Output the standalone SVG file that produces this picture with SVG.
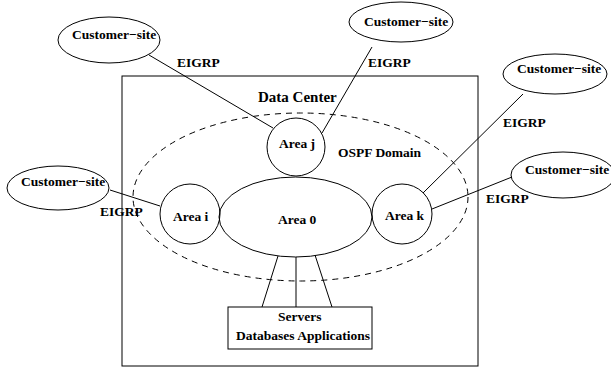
<svg xmlns="http://www.w3.org/2000/svg" width="611" height="367" viewBox="0 0 611 367">
<style>
.s{fill:none;stroke:#000;stroke-width:1}
.t{font-family:"Liberation Serif","Times New Roman",serif;font-weight:bold;font-size:13.5px;fill:#000}
.d{fill:none;stroke:#000;stroke-width:1;stroke-dasharray:6,5}
</style>
<rect width="611" height="367" fill="#fff"/>
<g id="datacenter">
<rect class="s" x="122" y="76" width="356" height="290"/>
<text class="t" x="258" y="102" style="font-size:15px">Data Center</text>
</g>
<g id="ospf">
<ellipse class="d" cx="300.5" cy="197" rx="167.5" ry="84"/>
<text class="t" x="338" y="157">OSPF Domain</text>
</g>
<g id="connectors">
<line class="s" x1="149" y1="55" x2="273" y2="128"/>
<line class="s" x1="372" y1="47" x2="322" y2="133"/>
<line class="s" x1="523" y1="94" x2="423" y2="193"/>
<line class="s" x1="512" y1="177" x2="432" y2="209"/>
<line class="s" x1="110" y1="190" x2="160" y2="206"/>
<line class="s" x1="278" y1="256" x2="262" y2="307"/>
<line class="s" x1="296" y1="257" x2="296" y2="307"/>
<line class="s" x1="315" y1="255" x2="332" y2="307"/>
<text class="t" x="177" y="67">EIGRP</text>
<text class="t" x="368" y="67">EIGRP</text>
<text class="t" x="503" y="127">EIGRP</text>
<text class="t" x="486" y="203">EIGRP</text>
<text class="t" x="100" y="216">EIGRP</text>
</g>
<g id="cs1">
<ellipse class="s" cx="109" cy="40" rx="51" ry="23"/>
<text class="t" x="72" y="39">Customer−site</text>
</g>
<g id="cs2">
<ellipse class="s" cx="401" cy="22" rx="52" ry="20"/>
<text class="t" x="364" y="26">Customer−site</text>
</g>
<g id="cs3">
<ellipse class="s" cx="555" cy="74" rx="52" ry="20"/>
<text class="t" x="517" y="73">Customer−site</text>
</g>
<g id="cs4">
<ellipse class="s" cx="563" cy="175" rx="52" ry="23"/>
<text class="t" x="525" y="174">Customer−site</text>
</g>
<g id="cs5">
<ellipse class="s" cx="58" cy="188" rx="51" ry="22"/>
<text class="t" x="21" y="186">Customer−site</text>
</g>
<g id="areaj">
<circle class="s" cx="296" cy="147" r="29"/>
<text class="t" x="279" y="148">Area j</text>
</g>
<g id="areai">
<circle class="s" cx="190" cy="214" r="30"/>
<text class="t" x="173" y="221">Area i</text>
</g>
<g id="area0">
<ellipse class="s" cx="295.5" cy="217" rx="76.5" ry="40" fill="#fff"/>
<text class="t" x="278" y="224">Area 0</text>
</g>
<g id="areak">
<circle class="s" cx="402" cy="214" r="30"/>
<text class="t" x="385" y="220">Area k</text>
</g>
<g id="servers">
<rect class="s" x="228" y="307" width="144" height="42"/>
<text class="t" x="278" y="321">Servers</text>
<text class="t" x="236" y="340">Databases Applications</text>
</g>
</svg>
